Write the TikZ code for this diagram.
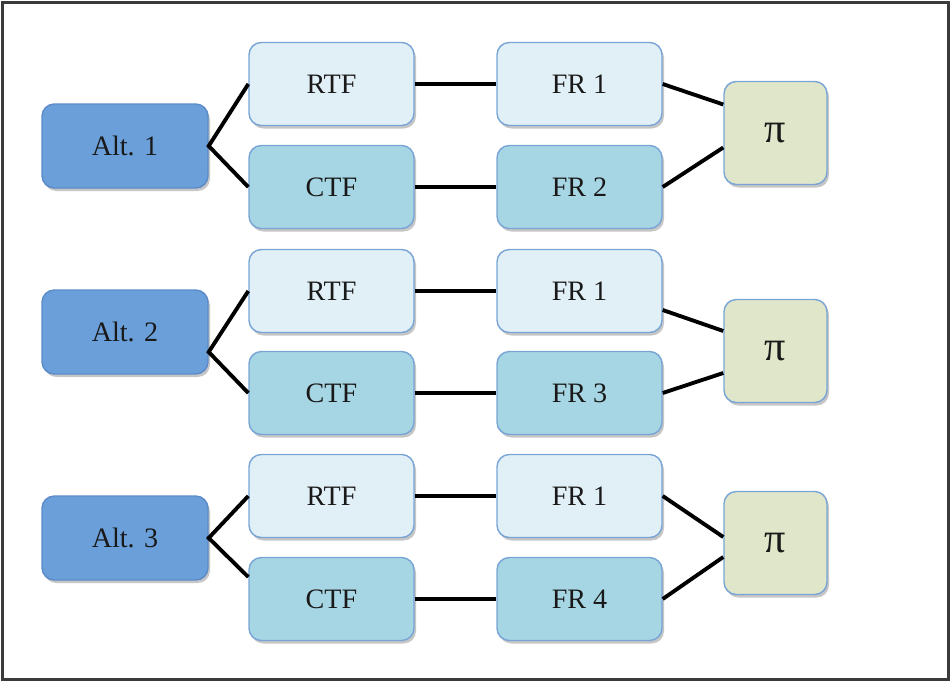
\documentclass[tikz,border=0pt]{standalone}
\usepackage{amsmath, amssymb}
\usepackage{xcolor}
\usepackage{fontspec}
\setmainfont{Liberation Serif}
\usepackage{tikz}
\usetikzlibrary{calc, shadows}

\definecolor{altblue}{HTML}{6A9FD9}
\definecolor{altedge}{HTML}{5B8CC9}
\definecolor{rtffill}{HTML}{E1EFF6}
\definecolor{ctffill}{HTML}{A6D6E3}
\definecolor{boxedge}{HTML}{78A4D6}
\definecolor{pifill}{HTML}{DFE6C9}
\definecolor{frame}{HTML}{3A3A3A}

\begin{document}
\begin{tikzpicture}[
		box/.style={rounded corners=7pt, line width=0.8pt, minimum width=3.3cm, minimum height=1.66cm,
			font=\fontsize{16}{18}\selectfont, text=black!90,
			drop shadow={opacity=0.45, shadow xshift=0.04cm, shadow yshift=-0.06cm}},
		altbox/.style={box, fill=altblue, draw=altedge, minimum width=3.32cm, minimum height=1.68cm},
		rtfbox/.style={box, fill=rtffill, draw=boxedge},
		ctfbox/.style={box, fill=ctffill, draw=boxedge},
		pibox/.style={box, fill=pifill, draw=boxedge, minimum width=2.06cm, minimum height=2.06cm,
			font=\fontsize{24}{26}\selectfont},
		link/.style={line width=2.2pt, black}
	]
					\useasboundingbox (0,0) rectangle (19.02,13.64);
					\draw[frame, line width=2pt] (0.05,0.05) rectangle (18.97,13.59);

					\draw
						(2.5,10.72) node[altbox] (alt1) {Alt. 1}
						(2.5,7.0) node[altbox] (alt2) {Alt. 2}
						(2.5,2.88) node[altbox] (alt3) {Alt. 3};

					\draw
						(6.63,11.96) node[rtfbox] (rtf1) {RTF}
						(6.63,9.9) node[ctfbox] (ctf1) {CTF}
						(6.63,7.82) node[rtfbox] (rtf2) {RTF}
						(6.63,5.78) node[ctfbox] (ctf2) {CTF}
						(6.63,3.72) node[rtfbox] (rtf3) {RTF}
						(6.63,1.66) node[ctfbox] (ctf3) {CTF};

					\draw
						(11.59,11.96) node[rtfbox] (fra) {FR 1}
						(11.59,9.9) node[ctfbox] (frb) {FR 2}
						(11.59,7.82) node[rtfbox] (frc) {FR 1}
						(11.59,5.78) node[ctfbox] (frd) {FR 3}
						(11.59,3.72) node[rtfbox] (fre) {FR 1}
						(11.59,1.66) node[ctfbox] (frf) {FR 4};

					\draw
						(15.51,10.98) node[pibox] (pi1) {π}
						(15.51,6.62) node[pibox] (pi2) {π}
						(15.51,2.78) node[pibox] (pi3) {π};

					\draw[link]
						(rtf1.west) -- (alt1.east) -- (ctf1.west)
						(rtf2.west) -- ([yshift=-0.4cm]alt2.east) -- (ctf2.west)
						(rtf3.west) -- (alt3.east) -- ([yshift=0.44cm]ctf3.west);

					\draw[link]
						(rtf1.east) -- (fra.west)
						(ctf1.east) -- (frb.west)
						(rtf2.east) -- (frc.west)
						(ctf2.east) -- (frd.west)
						(rtf3.east) -- (fre.west)
						(ctf3.east) -- (frf.west);

					\draw[link]
						(fra.east) -- ([yshift=0.57cm]pi1.west)
						(frb.east) -- ([yshift=-0.29cm]pi1.west)
						([yshift=-0.38cm]frc.east) -- ([yshift=0.4cm]pi2.west)
						(frd.east) -- ([yshift=-0.44cm]pi2.west)
						(fre.east) -- ([yshift=0.12cm]pi3.west)
						(frf.east) -- ([yshift=-0.28cm]pi3.west);
				\end{tikzpicture}
\end{document}
